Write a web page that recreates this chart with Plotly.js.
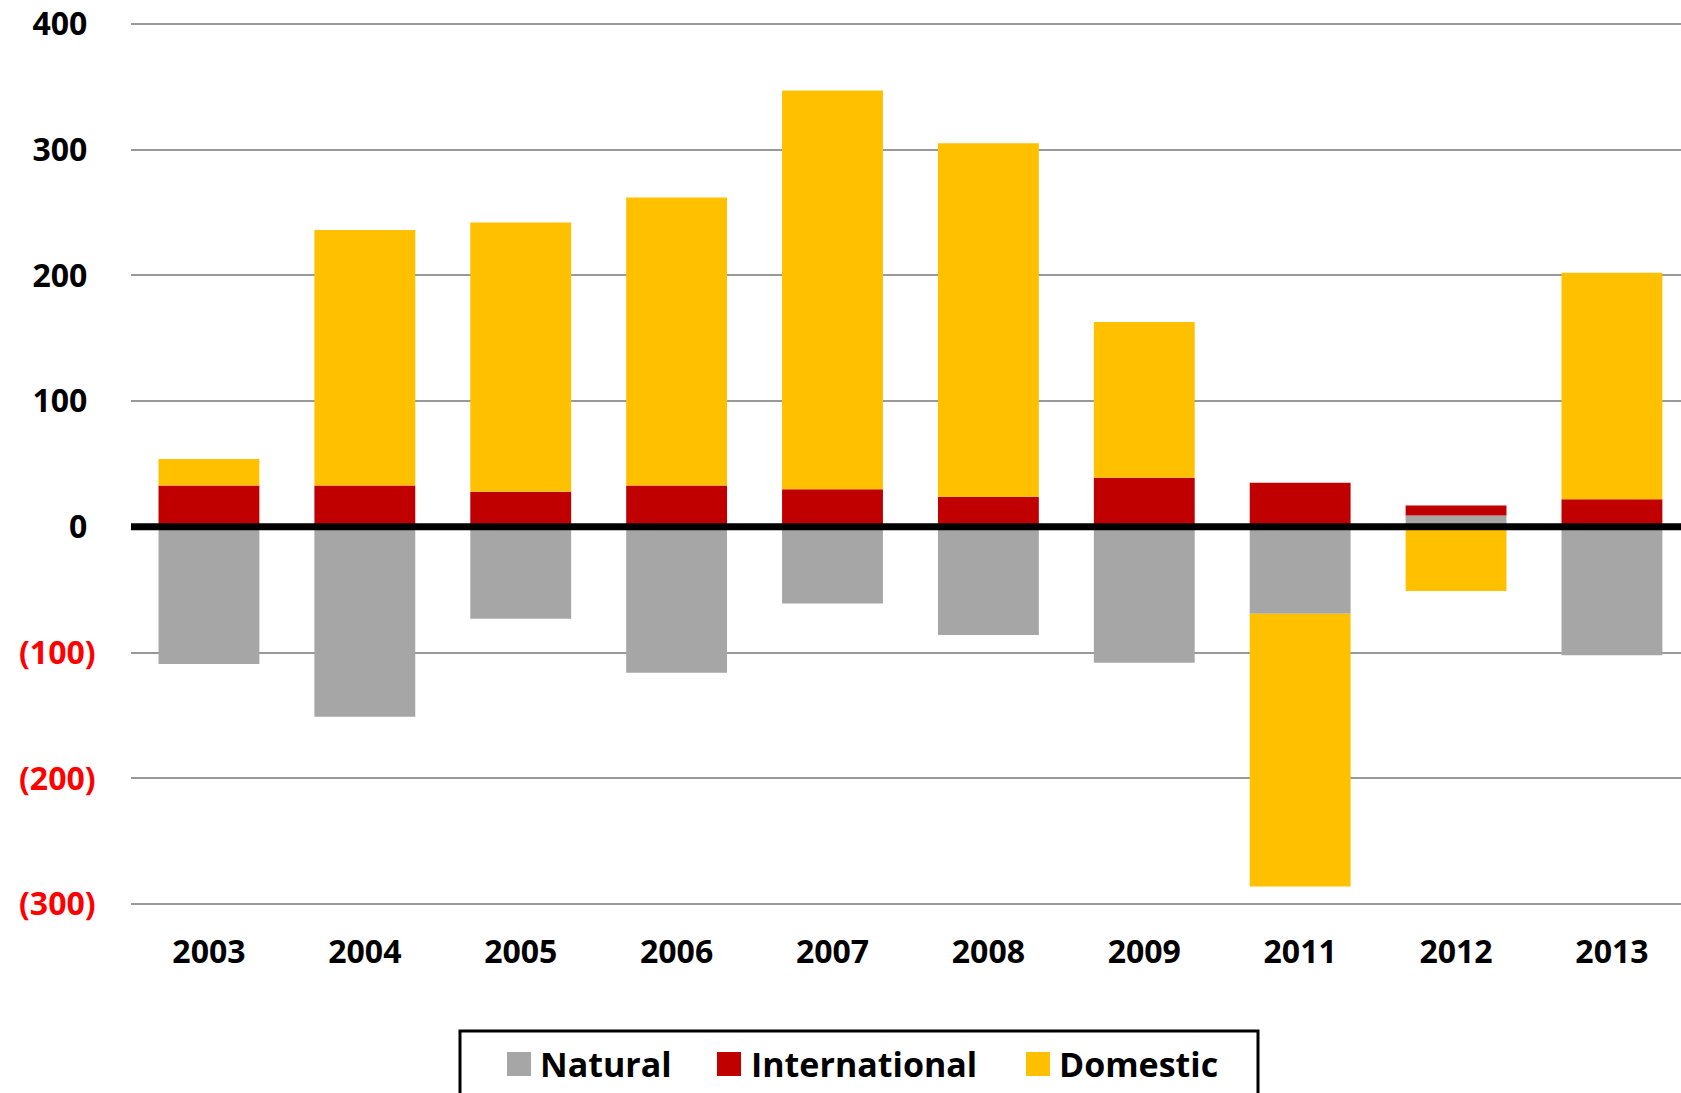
<!DOCTYPE html>
<html>
<head>
<meta charset="utf-8">
<script src="https://cdn.plot.ly/plotly-3.0.1.min.js"></script>
<style>html,body{margin:0;padding:0;background:#fff;}#chart{width:1681px;height:1093px;}</style>
</head>
<body>
<div id="chart"></div>
<script>
// ---- data ----
const years = ['2003','2004','2005','2006','2007','2008','2009','2011','2012','2013'];
const natural = [-109, -151, -73, -116, -61, -86, -108, -69, 9, -102];
const international = [33, 33, 28, 33, 30, 24, 39, 35, 8, 22];
const domestic = [21, 203, 214, 229, 317, 281, 124, -217, -51, 180];
const seriesNames = ['Natural', 'International', 'Domestic'];
const seriesColors = ['#a6a6a6', '#c00000', '#ffc000'];
const yTickVals = [400, 300, 200, 100, 0, -100, -200, -300];
const yTickText = ['400\u00A0', '300\u00A0', '200\u00A0', '100\u00A0', '0\u00A0',
  '<span style="color:#ff0000">(100)</span>',
  '<span style="color:#ff0000">(200)</span>',
  '<span style="color:#ff0000">(300)</span>'];

// ---- layout geometry ----
const W = 1681, H = 1093;
const M = {l: 131, r: 0, t: 22, b: 187};
const plotW = W - M.l - M.r, plotH = H - M.t - M.b;
const px = x => (x - M.l) / plotW;
const py = y => (H - M.b - y) / plotH;

const FONT = 'Open Sans, Lato, sans-serif';
const seriesData = [natural, international, domestic];

const traces = seriesData.map((vals, i) => ({
  type: 'bar',
  name: seriesNames[i],
  x: years,
  y: vals,
  marker: {color: seriesColors[i], line: {width: 0}},
  width: 0.647,
  showlegend: false,
  hoverinfo: 'x+y+name'
}));

// custom legend (to match large swatches)
const legendSwatchX = [507, 717, 1026];
const legendTextX = [538, 749, 1057];
const shapes = [
  {type: 'line', xref: 'paper', yref: 'y', x0: 0, x1: 1, y0: 0, y1: 0,
   line: {color: '#000', width: 7}, layer: 'above'},
  {type: 'rect', xref: 'paper', yref: 'paper', x0: px(460), x1: px(1258), y0: py(1120), y1: py(1031),
   line: {color: '#000', width: 3}, fillcolor: 'rgba(0,0,0,0)', layer: 'above'}
];
const annotations = [];
seriesNames.forEach((n, i) => {
  shapes.push({type: 'rect', xref: 'paper', yref: 'paper',
    x0: px(legendSwatchX[i]), x1: px(legendSwatchX[i] + 24),
    y0: py(1076), y1: py(1052),
    line: {width: 0}, fillcolor: seriesColors[i], layer: 'above'});
  annotations.push({xref: 'paper', yref: 'paper', x: px(legendTextX[i]), y: py(1064),
    xanchor: 'left', yanchor: 'middle', showarrow: false, text: n,
    font: {family: FONT, size: 34, color: '#000', weight: 700}});
});

const layout = {
  width: W, height: H,
  margin: M,
  paper_bgcolor: '#fff', plot_bgcolor: '#fff',
  barmode: 'relative',
  showlegend: false,
  font: {family: FONT, size: 32, color: '#000', weight: 700},
  xaxis: {
    type: 'category',
    range: [-0.5, 9.443],
    showgrid: false, zeroline: false, showline: false,
    ticks: 'outside', ticklen: 18, tickcolor: 'rgba(0,0,0,0)',
    tickfont: {family: FONT, size: 32, color: '#000', weight: 700},
    fixedrange: true
  },
  yaxis: {
    range: [-301.5, 401.5],
    tickvals: yTickVals,
    ticktext: yTickText,
    showgrid: true, gridcolor: '#999999', gridwidth: 2,
    zeroline: false, showline: false,
    ticks: 'outside', ticklen: 28, tickcolor: 'rgba(0,0,0,0)',
    tickfont: {family: FONT, size: 32, color: '#000', weight: 700},
    fixedrange: true
  },
  shapes: shapes,
  annotations: annotations
};

Plotly.newPlot('chart', traces, layout, {displayModeBar: false, staticPlot: true});
</script>
</body>
</html>
